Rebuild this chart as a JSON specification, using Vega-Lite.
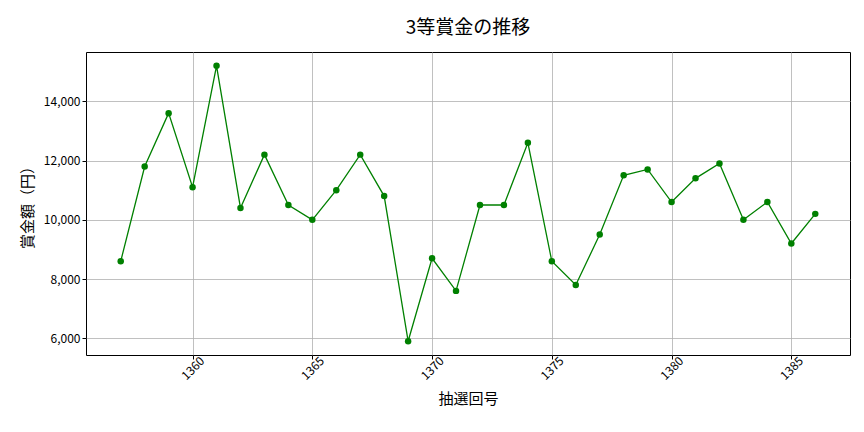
{
  "$schema": "https://vega.github.io/schema/vega-lite/v6.json",
  "width": 764,
  "height": 303,
  "autosize": {"type": "none"},
  "padding": {"left": 86, "top": 52, "right": 14, "bottom": 77},
  "background": "white",
  "title": {
    "text": "3等賞金の推移",
    "font": "Noto Sans CJK JP",
    "fontSize": 19,
    "fontWeight": "normal",
    "color": "#000000",
    "offset": 14
  },
  "config": {
    "view": {"stroke": "#000000", "strokeWidth": 1},
    "axis": {
      "labelFont": "Noto Sans CJK JP",
      "titleFont": "Noto Sans CJK JP",
      "labelFontSize": 12,
      "titleFontSize": 15,
      "titleFontWeight": "normal",
      "labelFontWeight": "normal",
      "labelColor": "#000000",
      "titleColor": "#000000",
      "domain": false,
      "tickColor": "#000000",
      "tickSize": 4,
      "gridColor": "#b0b0b0",
      "gridWidth": 0.8,
      "gridOpacity": 1
    }
  },
  "data": {
    "values": [
      {"draw": 1357, "prize": 8600},
      {"draw": 1358, "prize": 11800},
      {"draw": 1359, "prize": 13600},
      {"draw": 1360, "prize": 11100},
      {"draw": 1361, "prize": 15200},
      {"draw": 1362, "prize": 10400},
      {"draw": 1363, "prize": 12200},
      {"draw": 1364, "prize": 10500},
      {"draw": 1365, "prize": 10000},
      {"draw": 1366, "prize": 11000},
      {"draw": 1367, "prize": 12200},
      {"draw": 1368, "prize": 10800},
      {"draw": 1369, "prize": 5900},
      {"draw": 1370, "prize": 8700},
      {"draw": 1371, "prize": 7600},
      {"draw": 1372, "prize": 10500},
      {"draw": 1373, "prize": 10500},
      {"draw": 1374, "prize": 12600},
      {"draw": 1375, "prize": 8600},
      {"draw": 1376, "prize": 7800},
      {"draw": 1377, "prize": 9500},
      {"draw": 1378, "prize": 11500},
      {"draw": 1379, "prize": 11700},
      {"draw": 1380, "prize": 10600},
      {"draw": 1381, "prize": 11400},
      {"draw": 1382, "prize": 11900},
      {"draw": 1383, "prize": 10000},
      {"draw": 1384, "prize": 10600},
      {"draw": 1385, "prize": 9200},
      {"draw": 1386, "prize": 10200}
    ]
  },
  "mark": {
    "type": "line",
    "color": "green",
    "strokeWidth": 1.3,
    "point": {"filled": true, "color": "green", "size": 42, "opacity": 1}
  },
  "encoding": {
    "x": {
      "field": "draw",
      "type": "quantitative",
      "title": "抽選回号",
      "scale": {"domain": [1355.55, 1387.45], "nice": false, "zero": false},
      "axis": {
        "values": [1360, 1365, 1370, 1375, 1380, 1385],
        "format": "d",
        "labelAngle": -45,
        "labelAlign": "center",
        "labelBaseline": "middle",
        "labelPadding": 9,
        "titlePadding": 10
      }
    },
    "y": {
      "field": "prize",
      "type": "quantitative",
      "title": "賞金額（円）",
      "scale": {"domain": [5435, 15665], "nice": false, "zero": false},
      "axis": {
        "values": [6000, 8000, 10000, 12000, 14000],
        "format": ",d",
        "titlePadding": 8
      }
    }
  }
}
